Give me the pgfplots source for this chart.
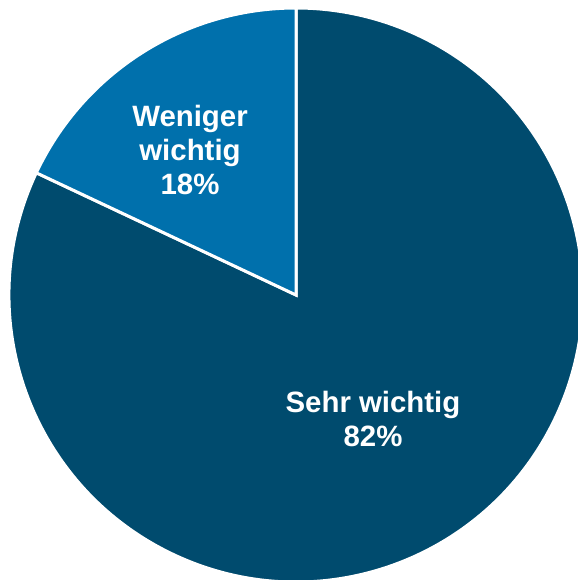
\documentclass[border=0pt]{standalone}
\usepackage{pgfplots}
\pgfplotsset{compat=1.18}
\usepackage{fontspec}
\setmainfont{Liberation Sans}
\definecolor{darkblue}{HTML}{004B6E}
\definecolor{lightblue}{HTML}{0070AC}
\begin{document}
\begin{tikzpicture}
\def\valA{18}% Weniger wichtig
\def\valB{82}% Sehr wichtig
\pgfmathsetmacro{\angA}{90+\valA*3.6}
\begin{axis}[
  scale only axis, width=289pt, height=290pt,
  xmin=0, xmax=578, ymin=0, ymax=580,
  hide axis, clip=true,
]
% pie centre (296,286), radius 287 px = 143.5pt
\fill[darkblue, draw=white, line width=1.5pt, line join=miter]
  (axis cs:296,285) -- ++(\angA:143.5pt) arc[start angle=\angA, end angle=450, radius=143.5pt] -- cycle;
\fill[lightblue, draw=white, line width=1.5pt, line join=miter]
  (axis cs:296,285) -- ++(90:143.5pt) arc[start angle=90, end angle=\angA, radius=143.5pt] -- cycle;
\node[white, font=\bfseries\fontsize{14.7}{17}\selectfont, align=center]
  at (axis cs:190,430) {Weniger\\wichtig\\18\%};
\node[white, font=\bfseries\fontsize{14.7}{17}\selectfont, align=center]
  at (axis cs:373,161) {Sehr wichtig\\82\%};
\end{axis}
\pgfresetboundingbox
\useasboundingbox (current axis.south west) rectangle (current axis.north east);
\end{tikzpicture}
\end{document}
